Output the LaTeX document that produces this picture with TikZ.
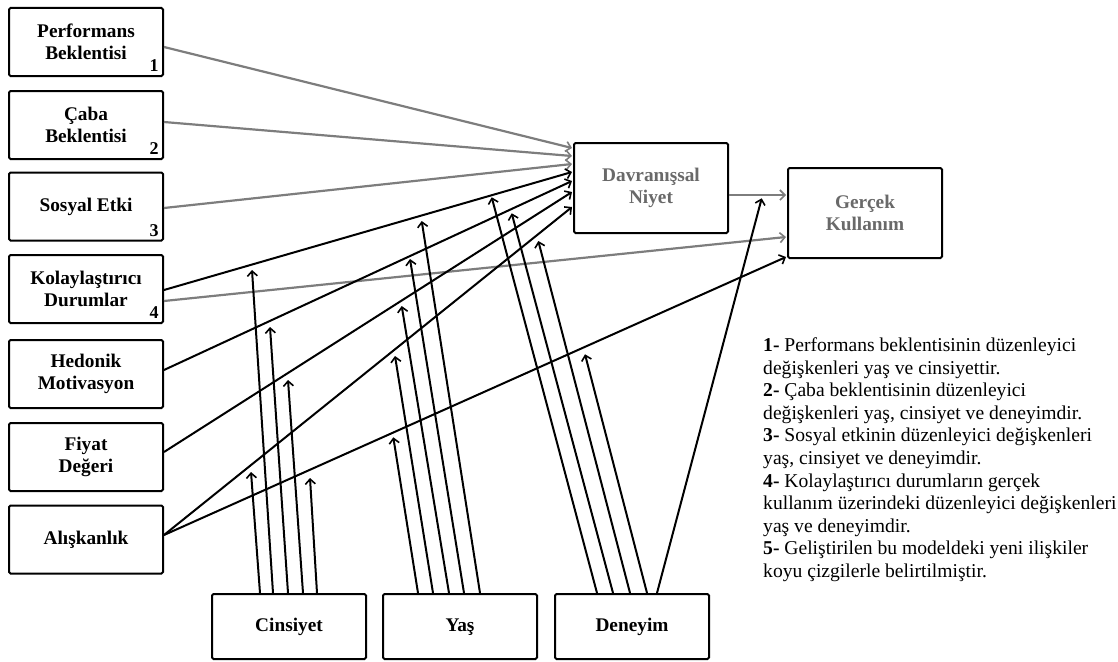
\documentclass[tikz,border=0pt]{standalone}
\usepackage{fontspec}
\setmainfont{Liberation Serif}
\usetikzlibrary{arrows.meta,calc}

\definecolor{pathgray}{RGB}{125,125,125}
\definecolor{labelgray}{RGB}{105,105,105}

\begin{document}
\begin{tikzpicture}[x=1pt,y=-1pt,
  box/.style={draw=black,line width=2pt,rounded corners=1.5pt,fill=white,
    minimum width=154pt,minimum height=68pt,inner sep=2pt,align=center,
    font=\bfseries\fontsize{19.3}{22.5}\selectfont},
  tallbox/.style={box,minimum height=90pt},
  lowbox/.style={box,minimum height=65pt,text height=13pt,text depth=4pt},
  num/.style={inner sep=0pt,font=\bfseries\fontsize{18}{20}\selectfont},
  oldpath/.style={draw=pathgray,line width=2.2pt,
    -{Straight Barb[length=5pt,width=10pt,line width=1.6pt]}},
  newpath/.style={draw=black,line width=2pt,
    -{Straight Barb[length=5pt,width=10pt,line width=1.6pt]}},
  note/.style={inner sep=0pt,align=left,font=\fontsize{19.6}{22.6}\selectfont}
]
\useasboundingbox (0,0) rectangle (1118,661);

% ---- constructs on the left ----
\node[box] (pb) at (86,42)    {Performans\\Beklentisi};
\node[box] (cb) at (86,125)   {Çaba\\Beklentisi};
\node[box] (se) at (86,206.5) {Sosyal Etki};
\node[box] (kd) at (86,289)   {Kolaylaştırıcı\\Durumlar};
\node[box] (hm) at (86,374)   {Hedonik\\Motivasyon};
\node[box] (fd) at (86,457)   {Fiyat\\Değeri};
\node[box] (al) at (86,539.5) {Alışkanlık};

\node[num] (n1) at ($(pb.south east)+(-10,-11)$) {1};
\node[num] (n2) at ($(cb.south east)+(-10,-11)$) {2};
\node[num] (n3) at ($(se.south east)+(-10,-11)$) {3};
\node[num] (n4) at ($(kd.south east)+(-10,-11)$) {4};

% ---- outcomes ----
\node[tallbox,text=labelgray] (dn) at (651,188) {Davranışsal\\Niyet};
\node[tallbox,text=labelgray] (gk) at (865,213) {Gerçek\\Kullanım};

% ---- moderators ----
\node[lowbox] (cins) at (289,626.5) {Cinsiyet};
\node[lowbox] (yas)  at (460,626.5) {Yaş};
\node[lowbox] (den)  at (632,626.5) {Deneyim};

% ---- original model paths ----
\draw[oldpath] ($(pb.east)+(0,5)$)   -- ($(dn.west)+(-1,-40)$);
\draw[oldpath] ($(cb.east)+(0,-3)$)  -- ($(dn.west)+(-1,-32)$);
\draw[oldpath] ($(se.east)+(0,1.5)$) -- ($(dn.west)+(-1,-24)$);
\draw[oldpath] ($(kd.east)+(0,12)$)  -- ($(gk.west)+(-1,24)$);
\draw[oldpath] ($(dn.east)+(0,7)$)   -- ($(gk.west)+(-1,-18)$);

% ---- new paths ----
\draw[newpath] ($(kd.east)+(0,1)$)   -- ($(dn.west)+(-1,-16)$);
\draw[newpath] ($(hm.east)+(0,-4)$)  -- ($(dn.west)+(-1,-7)$);
\draw[newpath] ($(fd.east)+(0,-5)$)  -- ($(dn.west)+(-1,4)$);
\draw[newpath] ($(al.east)+(0,-4.5)$) -- ($(dn.west)+(-1,19)$);
\draw[newpath] ($(al.east)+(0,-4.5)$) -- ($(gk.west)+(-1,44)$);

% ---- moderation targets ----
\coordinate (gKD) at (252,270);
\coordinate (gHM) at (270,327);
\coordinate (gFD) at (288,380);
\coordinate (gAD) at (251,472);
\coordinate (gAG) at (310,478);

\coordinate (aKD) at (421.7,221);
\coordinate (aHM) at (410,259);
\coordinate (aFD) at (401.7,306);
\coordinate (aAD) at (395,356);
\coordinate (aAG) at (393.3,437.3);

\coordinate (eKD) at (491.7,197.3);
\coordinate (eHM) at (511.7,213.3);
\coordinate (eAD) at (538.3,241);
\coordinate (eAG) at (585,354.3);
\coordinate (eDG) at (761.7,198.3);

% gender
\draw[newpath] ($(cins.north)+(-29,0)$) -- (gAD);
\draw[newpath] ($(cins.north)+(-16,0)$) -- (gKD);
\draw[newpath] ($(cins.north)+(-1,0)$)  -- (gHM);
\draw[newpath] ($(cins.north)+(14,0)$)  -- (gFD);
\draw[newpath] ($(cins.north)+(28,0)$)  -- (gAG);

% age
\draw[newpath] ($(yas.north)+(-42,0)$) -- (aAG);
\draw[newpath] ($(yas.north)+(-27,0)$) -- (aAD);
\draw[newpath] ($(yas.north)+(-11,0)$) -- (aFD);
\draw[newpath] ($(yas.north)+(4,0)$)   -- (aHM);
\draw[newpath] ($(yas.north)+(20,0)$)  -- (aKD);

% experience
\draw[newpath] ($(den.north)+(-35,0)$) -- (eKD);
\draw[newpath] ($(den.north)+(-19,0)$) -- (eHM);
\draw[newpath] ($(den.north)+(-2,0)$)  -- (eAD);
\draw[newpath] ($(den.north)+(15,0)$)  -- (eAG);
\draw[newpath] ($(den.north)+(25,0)$)  -- (eDG);

% ---- notes ----
\node[note,anchor=north west] (notes) at (763,337.5) {%
\textbf{1-} Performans beklentisinin düzenleyici\\
değişkenleri yaş ve cinsiyettir.\\
\textbf{2-} Çaba beklentisinin düzenleyici\\
değişkenleri yaş, cinsiyet ve deneyimdir.\\
\textbf{3-} Sosyal etkinin düzenleyici değişkenleri\\
yaş, cinsiyet ve deneyimdir.\\
\textbf{4-} Kolaylaştırıcı durumların gerçek\\
kullanım üzerindeki düzenleyici değişkenleri\\
yaş ve deneyimdir.\\
\textbf{5-} Geliştirilen bu modeldeki yeni ilişkiler\\
koyu çizgilerle belirtilmiştir.};
\end{tikzpicture}
\end{document}
